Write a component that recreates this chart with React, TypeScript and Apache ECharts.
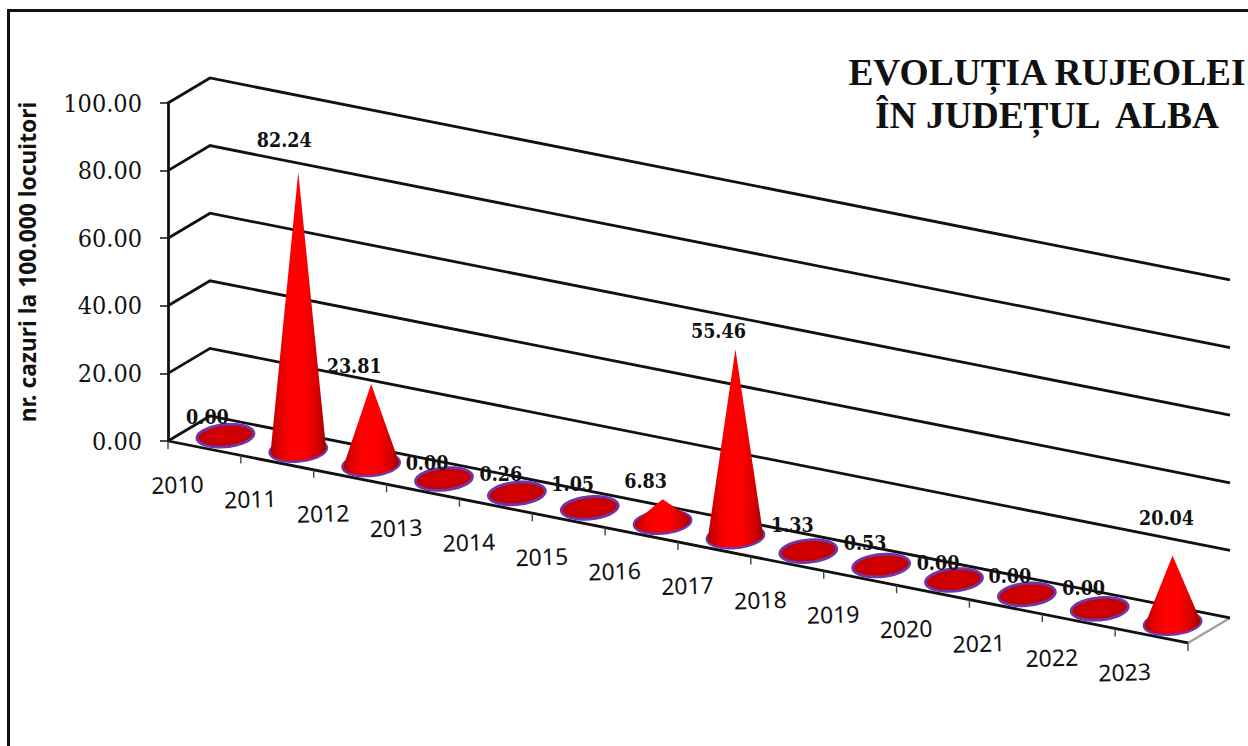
import React, { useEffect, useRef } from "react";
import * as echarts from "echarts";

const years = ["2010", "2011", "2012", "2013", "2014", "2015", "2016", "2017", "2018", "2019", "2020", "2021", "2022", "2023"];
const rates = [0.0, 82.24, 23.81, 0.0, 0.26, 1.05, 6.83, 55.46, 1.33, 0.53, 0.0, 0.0, 0.0, 20.04];
const yTicks = [0, 20, 40, 60, 80, 100];
const labelNudgeX = [-18, -14, -17, -17, -16, -17, -17, -17, -16, -16, -16, -17, -16, -6];
const labelNudgeY = [-18, -32, -18, -15, -18, -20, -18, -18, -21, -20, -16, -18, -20, -37];
const titleText = "EVOLUȚIA RUJEOLEI\nÎN JUDEȚUL  ALBA";
const yTitle = "nr. cazuri la 100.000 locuitori";

const SKEW = 0.198;
const DEPTH_X = 42;
const DEPTH_Y = -25;
const RX = 28.5;
const RY = 11.2;
const TILT = 0.08;
const PURPLE = "#6f37ad";
const LINE = "#111111";

function helpers(params: any, api: any) {
  const band = api.size([1, 0])[0];
  const left = params.coordSys.x;
  const at = (i: number, v: number, depth = 0, shift = 0) => {
    const p = api.coord([i, v]);
    const x = p[0] + shift * band;
    return [x + DEPTH_X * depth, p[1] + SKEW * (x - left) + DEPTH_Y * depth];
  };
  return { band, at };
}

function ellipsePoints(cx: number, cy: number, rx: number, ry: number, from: number, to: number, n: number) {
  const pts: number[][] = [];
  for (let k = 0; k <= n; k++) {
    const t = from + ((to - from) * k) / n;
    const dx = rx * Math.cos(t);
    pts.push([cx + dx, cy + ry * Math.sin(t) - TILT * dx]);
  }
  return pts;
}

const coneFill = new echarts.graphic.LinearGradient(0, 0, 1, 0, [
  { offset: 0, color: "#b80000" },
  { offset: 0.22, color: "#ee0000" },
  { offset: 0.38, color: "#ff0000" },
  { offset: 0.62, color: "#ff0000" },
  { offset: 0.85, color: "#d40000" },
  { offset: 1, color: "#a00000" },
]);
const discFill = new echarts.graphic.RadialGradient(0.5, 0.5, 0.6, [
  { offset: 0, color: "#d80000" },
  { offset: 1, color: "#c00000" },
]);

function renderFloor(params: any, api: any) {
  const { at } = helpers(params, api);
  const last = years.length - 1;
  const a = at(0, 0, 0, -0.5);
  const b = at(last, 0, 0, 0.5);
  const c = at(last, 0, 1, 0.5);
  return {
    type: "group",
    children: [
      { type: "polygon", shape: { points: [a, b, c, at(0, 0, 1, -0.5)] }, style: { fill: "#ffffff" } },
      { type: "line", shape: { x1: b[0], y1: b[1], x2: c[0], y2: c[1] }, style: { stroke: "#a0a0a0", lineWidth: 2.4 } },
      { type: "line", shape: { x1: a[0], y1: a[1], x2: b[0], y2: b[1] }, style: { stroke: LINE, lineWidth: 2.8 } },
    ],
  };
}

function renderWall(params: any, api: any) {
  const { at } = helpers(params, api);
  const v = api.value(1);
  const last = years.length - 1;
  return {
    type: "polyline",
    shape: { points: [at(0, v, 0, -0.5), at(0, v, 1, -0.5), at(last, v, 1, 0.5)] },
    style: { stroke: LINE, lineWidth: 2.8, fill: "none" },
  };
}

function renderTick(params: any, api: any) {
  const { at } = helpers(params, api);
  const k = api.value(2);
  const q = k < 0 ? at(0, 0, 0, -0.5) : at(k, 0, 0, 0.5);
  return {
    type: "line",
    shape: { x1: q[0], y1: q[1], x2: q[0], y2: q[1] + 8 },
    style: { stroke: "#444444", lineWidth: 1.4 },
  };
}

function renderCone(params: any, api: any) {
  const { at } = helpers(params, api);
  const i = api.value(0);
  const v = api.value(1);
  const [cx, cy] = at(i, 0, 0.5);
  const [, ty] = at(i, v, 0.5);
  const h = cy - ty;
  const children: any[] = [
    {
      type: "polygon",
      shape: { points: ellipsePoints(cx, cy, RX, RY, 0, Math.PI * 2, 48) },
      style: { fill: discFill, stroke: PURPLE, lineWidth: 2.8 },
    },
  ];
  if (h > RY * 1.2) {
    const s = (RY - 1) / h;
    const a = Math.asin(s);
    const arc = ellipsePoints(cx, cy, RX - 0.8, RY - 1, -a, Math.PI + a, 32);
    children.push({
      type: "polygon",
      shape: { points: [[cx, ty], ...arc] },
      style: { fill: coneFill },
    });
  }
  return { type: "group", children };
}

function renderYearLabel(params: any, api: any) {
  const { at } = helpers(params, api);
  const i = api.value(0);
  const p = at(i, 0);
  return {
    type: "text",
    x: p[0] - 27,
    y: p[1] + 36,
    rotation: 0.03,
    style: {
      text: years[i],
      font: '23px "Noto Sans"',
      fill: "#111111",
      textAlign: "center",
      textVerticalAlign: "middle",
    },
  };
}

function renderValueLabel(params: any, api: any) {
  const { at } = helpers(params, api);
  const i = api.value(0);
  const v = api.value(1);
  const p = at(i, v, 0.5);
  return {
    type: "text",
    x: p[0] + labelNudgeX[i],
    y: p[1] + labelNudgeY[i],
    style: {
      text: v.toFixed(2),
      font: 'bold 19.5px "DejaVu Serif Condensed", "DejaVu Serif"',
      fill: "#111111",
      textAlign: "center",
      textVerticalAlign: "middle",
    },
  };
}

export default function App() {
  const ref = useRef<HTMLDivElement>(null);
  useEffect(() => {
    const chart = echarts.init(ref.current!, undefined, { renderer: "svg" });
    const rows = rates.map((r, i) => [i, r]);
    const base = { type: "custom", coordinateSystem: "cartesian2d", silent: true, clip: false };
    chart.setOption({
      animation: false,
      backgroundColor: "#ffffff",
      title: {
        text: titleText,
        left: 1042,
        top: 46,
        textAlign: "center",
        textStyle: {
          fontFamily: "Liberation Serif",
          fontWeight: "bold",
          fontSize: 37.4,
          lineHeight: 43,
          color: "#111111",
        },
      },
      graphic: [
        {
          type: "rect",
          shape: { x: 8.5, y: 10.5, width: 1400, height: 900 },
          style: { fill: "none", stroke: "#111111", lineWidth: 3 },
          silent: true,
        },
      ],
      grid: { left: 168, top: 103, width: 1020, height: 338 },
      xAxis: { type: "category", data: years, show: false },
      yAxis: {
        type: "value",
        min: 0,
        max: 100,
        interval: 20,
        name: yTitle,
        nameLocation: "middle",
        nameGap: 129,
        nameRotate: 90,
        nameTextStyle: {
          fontFamily: "Noto Sans",
          fontWeight: "bold",
          fontSize: 22.8,
          color: "#111111",
          padding: [0, 0, 0, 20],
        },
        axisLine: { show: true, lineStyle: { color: LINE, width: 2.8 } },
        axisTick: { show: true, length: 8, lineStyle: { color: LINE, width: 1.5 } },
        splitLine: { show: false },
        axisLabel: {
          margin: 26,
          fontFamily: "DejaVu Serif Condensed, DejaVu Serif",
          fontSize: 25,
          color: "#111111",
          formatter: (v: number) => v.toFixed(2),
        },
      },
      series: [
        { ...base, z: 1, data: [[0, 0]], renderItem: renderFloor },
        { ...base, z: 2, data: yTicks.map((t) => [0, t]), renderItem: renderWall },
        { ...base, z: 3, data: [-1, ...years.map((_, i) => i)].map((i) => [i < 0 ? 0 : i, 0, i]), renderItem: renderTick },
        { ...base, z: 4, data: rows, renderItem: renderCone },
        { ...base, z: 5, data: rows, renderItem: renderYearLabel },
        { ...base, z: 6, data: rows, renderItem: renderValueLabel },
      ],
    });
    return () => chart.dispose();
  }, []);
  return <div ref={ref} style={{ position: "absolute", left: 0, top: 0, width: 1248, height: 746 }} />;
}
